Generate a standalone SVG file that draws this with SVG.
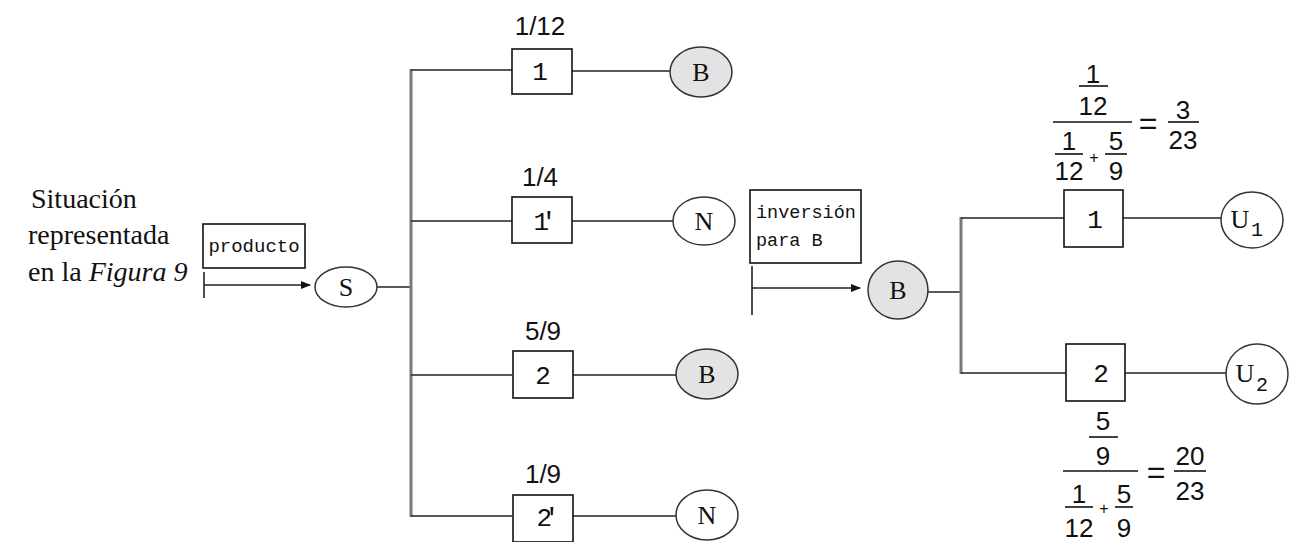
<svg xmlns="http://www.w3.org/2000/svg" width="1299" height="542" viewBox="0 0 1299 542">
  <style>
    .ln { stroke: #222; stroke-width: 1.6; fill: none; }
    .trunk { stroke: #7a7a7a; stroke-width: 3; fill: none; }
    .box { fill: #fff; stroke: #111; stroke-width: 1.6; }
    .chance { fill: #fff; stroke: #333; stroke-width: 1.5; }
    .shaded { fill: #e3e3e3; stroke: #333; stroke-width: 1.5; }
    .mono { font-family: "Liberation Mono", "Courier New", monospace; fill: #111; }
    .let { font-family: "Liberation Serif", "Times New Roman", serif; fill: #111; }
    .lbl { font-family: "Liberation Sans", Arial, sans-serif; fill: #111; }
    .serif { font-family: "Liberation Serif", "Times New Roman", serif; fill: #111; }
    .bar { stroke: #111; stroke-width: 1.6; }
  </style>
  <defs>
    <marker id="arrow" markerWidth="10" markerHeight="8" refX="9" refY="4" orient="auto" markerUnits="userSpaceOnUse">
      <path d="M0,0 L10,4 L0,8 z" fill="#111"/>
    </marker>
  </defs>

  <rect width="1299" height="542" fill="#fff"/>

  <!-- caption on the left -->
  <g id="caption">
    <text class="serif" font-size="28" x="31" y="208">Situación</text>
    <text class="serif" font-size="28" x="28" y="244">representada</text>
    <text class="serif" font-size="28" x="28" y="281">en la <tspan font-style="italic">Figura 9</tspan></text>
  </g>

  <!-- connectors -->
  <g id="connectors">
    <!-- input arrow into S -->
    <line class="ln" x1="204" y1="272" x2="204" y2="298"/>
    <line class="ln" x1="204" y1="285" x2="310" y2="285" marker-end="url(#arrow)"/>
    <line class="ln" x1="377" y1="287" x2="411" y2="287"/>
    <line class="trunk" x1="411" y1="69" x2="411" y2="517"/>
    <line class="ln" x1="411" y1="70" x2="512" y2="70"/>
    <line class="ln" x1="411" y1="221" x2="512" y2="221"/>
    <line class="ln" x1="411" y1="375" x2="512" y2="375"/>
    <line class="ln" x1="411" y1="516" x2="512" y2="516"/>
    <line class="ln" x1="572" y1="71" x2="670" y2="71"/>
    <line class="ln" x1="572" y1="221" x2="673" y2="221"/>
    <line class="ln" x1="573" y1="375" x2="676" y2="375"/>
    <line class="ln" x1="573" y1="516" x2="676" y2="516"/>
    <!-- input arrow into B -->
    <line class="ln" x1="752" y1="266" x2="752" y2="315"/>
    <line class="ln" x1="752" y1="288" x2="860" y2="288" marker-end="url(#arrow)"/>
    <line class="ln" x1="928" y1="292" x2="961" y2="292"/>
    <line class="trunk" x1="961" y1="217" x2="961" y2="374"/>
    <line class="ln" x1="961" y1="218" x2="1064" y2="218"/>
    <line class="ln" x1="961" y1="373" x2="1066" y2="373"/>
    <line class="ln" x1="1123" y1="218" x2="1221" y2="218"/>
    <line class="ln" x1="1125" y1="373" x2="1227" y2="373"/>
  </g>

  <g id="input-producto">
    <rect class="box" x="203" y="224" width="102" height="44"/>
    <text class="mono" font-size="19" x="254" y="252" text-anchor="middle">producto</text>
  </g>

  <g id="node-S">
    <ellipse class="chance" cx="346" cy="287" rx="31" ry="20"/>
    <text class="let" font-size="26" x="346" y="296" text-anchor="middle">S</text>
  </g>

  <!-- first-stage branches -->
  <g id="d1">
    <text class="lbl" font-size="26" x="540" y="35" text-anchor="middle">1/12</text>
    <rect class="box" x="512" y="49" width="60" height="45"/>
    <text class="mono" font-size="26" x="540" y="80" text-anchor="middle">1</text>
  </g>
  <g id="o1">
    <ellipse class="shaded" cx="701" cy="72" rx="31" ry="25"/>
    <text class="let" font-size="26" x="701" y="81" text-anchor="middle">B</text>
  </g>

  <g id="d1p">
    <text class="lbl" font-size="26" x="540" y="186" text-anchor="middle">1/4</text>
    <rect class="box" x="512" y="197" width="60" height="46"/>
    <text class="mono" font-size="26" x="541" y="230" text-anchor="middle" letter-spacing="-8">1'</text>
  </g>
  <g id="o1p">
    <ellipse class="chance" cx="704" cy="221" rx="31" ry="24"/>
    <text class="let" font-size="26" x="704" y="230" text-anchor="middle">N</text>
  </g>

  <g id="d2">
    <text class="lbl" font-size="26" x="543" y="340" text-anchor="middle">5/9</text>
    <rect class="box" x="513" y="351" width="60" height="47"/>
    <text class="mono" font-size="26" x="543" y="384" text-anchor="middle">2</text>
  </g>
  <g id="o2">
    <ellipse class="shaded" cx="707" cy="374" rx="31" ry="25"/>
    <text class="let" font-size="26" x="707" y="383" text-anchor="middle">B</text>
  </g>

  <g id="d2p">
    <text class="lbl" font-size="26" x="543" y="483" text-anchor="middle">1/9</text>
    <rect class="box" x="513" y="495" width="60" height="47"/>
    <text class="mono" font-size="26" x="544" y="526" text-anchor="middle" letter-spacing="-8">2'</text>
  </g>
  <g id="o2p">
    <ellipse class="chance" cx="707" cy="515" rx="31" ry="25"/>
    <text class="let" font-size="26" x="707" y="524" text-anchor="middle">N</text>
  </g>

  <g id="input-inversion">
    <rect class="box" x="750" y="190" width="111" height="73"/>
    <text class="mono" font-size="18.5" x="756" y="218">inversión</text>
    <text class="mono" font-size="18.5" x="756" y="246">para B</text>
  </g>

  <g id="node-B">
    <ellipse class="shaded" cx="898" cy="290" rx="30" ry="29"/>
    <text class="let" font-size="26" x="898" y="299" text-anchor="middle">B</text>
  </g>

  <!-- second-stage branches -->
  <g id="r1">
    <rect class="box" x="1064" y="190" width="59" height="57"/>
    <text class="mono" font-size="26" x="1095" y="228" text-anchor="middle">1</text>
  </g>
  <g id="u1">
    <ellipse class="chance" cx="1252" cy="220" rx="31" ry="28"/>
    <text class="let" font-size="26" x="1240" y="228" text-anchor="middle">U</text>
    <text class="mono" font-size="20" x="1257" y="236" text-anchor="middle">1</text>
  </g>

  <g id="r2">
    <rect class="box" x="1066" y="344" width="59" height="57"/>
    <text class="mono" font-size="26" x="1101" y="382" text-anchor="middle">2</text>
  </g>
  <g id="u2">
    <ellipse class="chance" cx="1257" cy="374" rx="31" ry="30"/>
    <text class="let" font-size="26" x="1245" y="382" text-anchor="middle">U</text>
    <text class="mono" font-size="20" x="1262" y="391" text-anchor="middle">2</text>
  </g>

  <!-- posterior for branch 1 -->
  <g id="posterior-1" class="lbl" font-size="26" text-anchor="middle">
    <text x="1093" y="83">1</text>
    <line class="bar" x1="1079" y1="86" x2="1108" y2="86"/>
    <text x="1093" y="115">12</text>
    <line class="bar" x1="1053" y1="122" x2="1132" y2="122"/>
    <text x="1069" y="150">1</text>
    <line class="bar" x1="1055" y1="154" x2="1083" y2="154"/>
    <text x="1069" y="180">12</text>
    <text x="1094" y="163" font-size="16">+</text>
    <text x="1116" y="150">5</text>
    <line class="bar" x1="1105" y1="154" x2="1127" y2="154"/>
    <text x="1116" y="180">9</text>
    <text x="1148" y="134" font-size="32">=</text>
    <text x="1183" y="119">3</text>
    <line class="bar" x1="1168" y1="122" x2="1199" y2="122"/>
    <text x="1183" y="149">23</text>
  </g>

  <!-- posterior for branch 2 -->
  <g id="posterior-2" class="lbl" font-size="26" text-anchor="middle">
    <text x="1103" y="430">5</text>
    <line class="bar" x1="1089" y1="437" x2="1118" y2="437"/>
    <text x="1103" y="465">9</text>
    <line class="bar" x1="1063" y1="471" x2="1138" y2="471"/>
    <text x="1079" y="503">1</text>
    <line class="bar" x1="1065" y1="507" x2="1093" y2="507"/>
    <text x="1079" y="537">12</text>
    <text x="1104" y="514" font-size="16">+</text>
    <text x="1124" y="503">5</text>
    <line class="bar" x1="1115" y1="507" x2="1133" y2="507"/>
    <text x="1124" y="537">9</text>
    <text x="1156" y="483" font-size="32">=</text>
    <text x="1190" y="465">20</text>
    <line class="bar" x1="1174" y1="471" x2="1206" y2="471"/>
    <text x="1190" y="500">23</text>
  </g>
</svg>
